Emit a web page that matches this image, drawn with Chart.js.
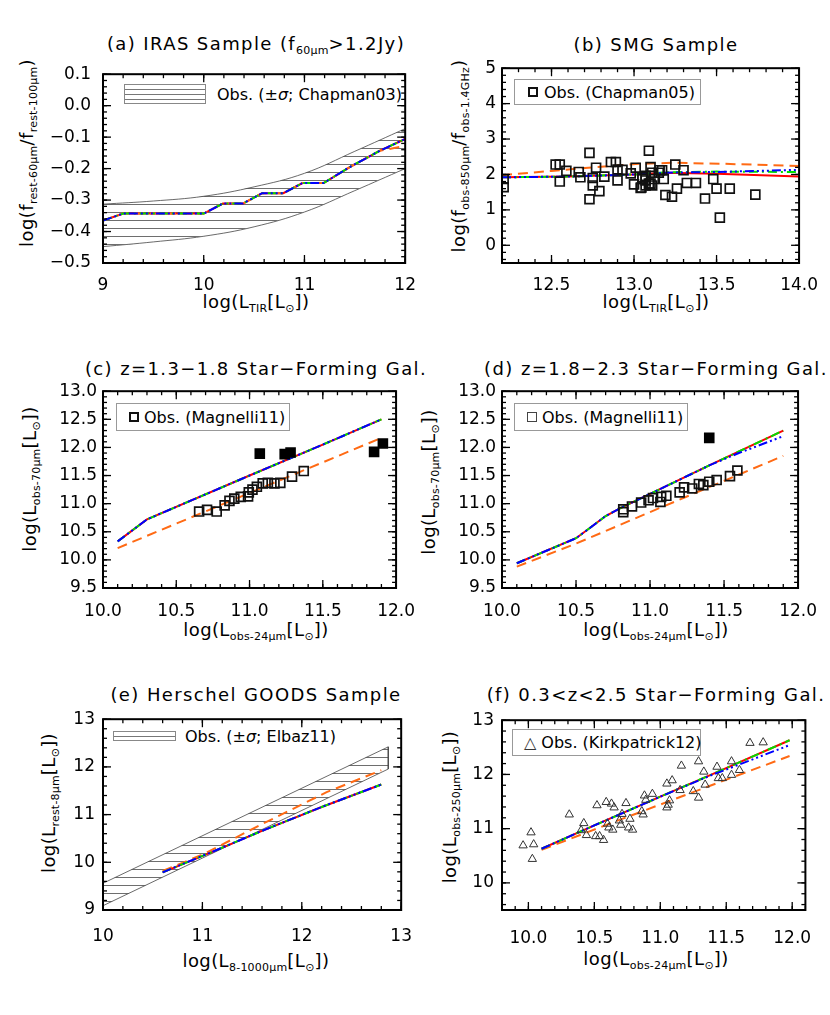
<!DOCTYPE html>
<html>
<head>
<meta charset="utf-8">
<title>Model versus observed infrared colours</title>
<script src="https://cdn.jsdelivr.net/npm/chart.js@4.4.1/dist/chart.umd.min.js"></script>
<style>
  body { margin: 0; background: #fff; }
  #page { position: relative; width: 830px; height: 1015px; overflow: hidden;
          font-family: 'DejaVu Sans', sans-serif; color: #000; }
  canvas { position: absolute; }
  .t { position: absolute; white-space: nowrap; line-height: 20px; font-size: 18px;
       transform: translate(-50%, -50%); }
  .ttl { letter-spacing: 1.4px; }
  .ax { letter-spacing: 0.4px; }
  .rot { transform: translate(-50%, -50%) rotate(-90deg); }
  .s { font-size: 11px; position: relative; top: 4px; letter-spacing: 0.2px; }
  .leg { position: absolute; display: flex; align-items: center; font-size: 16px;
         white-space: nowrap; box-sizing: border-box; }
  .frame { border: 1px solid #999; }
  .hatch { display: inline-block; border: 1px solid #888; box-sizing: border-box;
           background: repeating-linear-gradient(to bottom, transparent 0 4px, #777 4px 5px); }
  .sq { display: inline-block; width: 10px; height: 10px; border: 2px solid #111; box-sizing: border-box; }
</style>
</head>
<body>
<div id="page">
  <!-- panel titles -->
  <div class="t ttl" style="left:256px;top:45px">(a) IRAS Sample (f<span class="s">60µm</span>&gt;1.2Jy)</div>
  <div class="t ttl" style="left:656px;top:45px">(b) SMG Sample</div>
  <div class="t ttl" style="left:256px;top:369px">(c) z=1.3−1.8 Star−Forming Gal.</div>
  <div class="t ttl" style="left:656px;top:369px">(d) z=1.8−2.3 Star−Forming Gal.</div>
  <div class="t ttl" style="left:256px;top:695px">(e) Herschel GOODS Sample</div>
  <div class="t ttl" style="left:656px;top:695px">(f) 0.3&lt;z&lt;2.5 Star−Forming Gal.</div>

  <!-- x axis titles -->
  <div class="t ax" style="left:256px;top:303px">log(L<span class="s">TIR</span>[L<span class="s">⊙</span>])</div>
  <div class="t ax" style="left:656px;top:303px">log(L<span class="s">TIR</span>[L<span class="s">⊙</span>])</div>
  <div class="t ax" style="left:256px;top:631px">log(L<span class="s">obs-24µm</span>[L<span class="s">⊙</span>])</div>
  <div class="t ax" style="left:656px;top:631px">log(L<span class="s">obs-24µm</span>[L<span class="s">⊙</span>])</div>
  <div class="t ax" style="left:256px;top:962px">log(L<span class="s">8-1000µm</span>[L<span class="s">⊙</span>])</div>
  <div class="t ax" style="left:656px;top:960px">log(L<span class="s">obs-24µm</span>[L<span class="s">⊙</span>])</div>

  <!-- y axis titles -->
  <div class="t ax rot" style="left:28px;top:153px">log(f<span class="s">rest-60µm</span>/f<span class="s">rest-100µm</span>)</div>
  <div class="t ax rot" style="left:460px;top:156px">log(f<span class="s">obs-850µm</span>/f<span class="s">obs-1.4GHz</span>)</div>
  <div class="t ax rot" style="left:31px;top:479px">log(L<span class="s">obs-70µm</span>[L<span class="s">⊙</span>])</div>
  <div class="t ax rot" style="left:430px;top:482px">log(L<span class="s">obs-70µm</span>[L<span class="s">⊙</span>])</div>
  <div class="t ax rot" style="left:50px;top:803px">log(L<span class="s">rest-8µm</span>[L<span class="s">⊙</span>])</div>
  <div class="t ax rot" style="left:451px;top:807px">log(L<span class="s">obs-250µm</span>[L<span class="s">⊙</span>])</div>

  <!-- legends -->
  <div class="leg" style="left:124px;top:84px;height:20px">
    <span class="hatch" style="width:82px;height:20px"></span><span style="margin-left:11px">Obs. (±<i>σ</i>; Chapman03)</span></div>
  <div class="leg frame" style="left:514px;top:79px;width:187px;height:26px;padding-left:13px">
    <span class="sq"></span><span style="margin-left:6px">Obs. (Chapman05)</span></div>
  <div class="leg frame" style="left:116px;top:403px;width:174px;height:28px;padding-left:12px">
    <span class="sq"></span><span style="margin-left:5px">Obs. (Magnelli11)</span></div>
  <div class="leg frame" style="left:514px;top:403px;width:174px;height:28px;padding-left:12px">
    <span class="sq" style="border-width:1.3px;border-color:#444"></span><span style="margin-left:5px">Obs. (Magnelli11)</span></div>
  <div class="leg" style="left:113px;top:731px;height:10px">
    <span class="hatch" style="width:63px;height:10px"></span><span style="margin-left:9px">Obs. (±<i>σ</i>; Elbaz11)</span></div>
  <div class="leg frame" style="left:512px;top:729px;width:189px;height:27px;padding-left:11px">
    <span style="color:#333">△</span><span style="margin-left:5px">Obs. (Kirkpatrick12)</span></div>
</div>

<script>
// ---------- (a) IRAS sample ----------
const aBandX   = [9, 9.5, 10, 10.5, 11, 11.5, 12];
const aBandHi  = [-0.313, -0.303, -0.288, -0.258, -0.215, -0.145, -0.073];
const aBandLo  = [-0.448, -0.433, -0.415, -0.385, -0.338, -0.270, -0.200];
const aModelX  = [9, 9.2, 10, 10.19, 10.39, 10.58, 10.79, 10.98, 11.19, 11.45, 11.75, 12];
const aModelY  = [-0.365, -0.343, -0.343, -0.311, -0.311, -0.278, -0.278, -0.246, -0.246, -0.195, -0.143, -0.106];
const aOrangeY = [-0.365, -0.343, -0.343, -0.311, -0.311, -0.278, -0.278, -0.246, -0.246, -0.195, -0.143, -0.128];
const aXTicks  = [9, 10, 11, 12];
const aYTicks  = [0.1, 0.0, -0.1, -0.2, -0.3, -0.4, -0.5];

// ---------- (b) SMG sample ----------
const bObsX = [12.21, 12.21, 12.525, 12.55, 12.59, 12.55, 12.665, 12.675, 12.73, 12.73, 12.75, 12.75,
               12.77, 12.79, 12.82, 12.86, 12.89, 12.90, 12.90, 12.93, 12.98, 13.00, 13.01, 13.04,
               13.05, 13.09, 13.10, 13.07, 13.11, 13.07, 13.09, 13.12, 13.11, 13.15, 13.17, 13.18,
               13.19, 13.23, 13.25, 13.26, 13.30, 13.32, 13.375, 13.43, 13.48, 13.50, 13.52, 13.58,
               13.735, 13.045, 13.07, 13.10, 13.155, 13.05];
const bObsY = [1.87, 1.64, 2.28, 2.28, 2.10, 1.80, 2.07, 1.92, 2.61, 1.30, 1.90, 1.69,
               2.19, 1.53, 1.94, 2.35, 2.35, 2.14, 1.83, 2.13, 2.03, 1.72, 2.19, 1.62,
               1.87, 2.67, 2.21, 1.96, 2.05, 1.83, 1.74, 1.87, 1.69, 2.05, 2.12, 1.87,
               1.42, 1.37, 2.28, 1.60, 2.12, 1.76, 1.76, 1.32, 1.87, 1.60, 0.78, 1.60,
               1.43, 1.63, 1.69, 1.74, 2.12, 1.92];
const bLineX   = [12.2, 12.6, 13.0, 13.2, 13.5, 14.0];
const bRed     = [1.92, 1.94, 2.00, 2.05, 2.02, 1.94];
const bGreen   = [1.92, 1.94, 2.00, 2.06, 2.08, 2.07];
const bBlue    = [1.92, 1.94, 2.00, 2.05, 2.07, 2.13];
const bOrangeX = [12.2, 12.5, 12.77, 13.03, 13.24, 13.55, 14.0];
const bOrange  = [1.98, 2.10, 2.21, 2.30, 2.33, 2.30, 2.24];
const bXTicks  = [12.5, 13.0, 13.5, 14.0];
const bYTicks  = [0, 1, 2, 3, 4, 5];

// ---------- (c) z=1.3-1.8 ----------
const cObsX  = [10.656, 10.71, 10.776, 10.83, 10.863, 10.896, 10.94, 10.99, 10.995, 11.02, 11.05,
                11.09, 11.125, 11.17, 11.21, 11.29, 11.37];
const cObsY  = [10.86, 10.89, 10.86, 10.97, 11.05, 11.09, 11.12, 11.13, 11.20, 11.25, 11.30,
                11.36, 11.37, 11.36, 11.37, 11.48, 11.58];
const cFillX = [11.07, 11.24, 11.28, 11.85, 11.91];
const cFillY = [11.89, 11.88, 11.91, 11.92, 12.07];
const cLineX   = [10.1, 10.3, 11.0, 11.5, 11.9];
const cModel   = [10.33, 10.72, 11.50, 12.05, 12.50];
const cOrangeX = [10.1, 11.0, 11.9];
const cOrange  = [10.21, 11.19, 12.17];

// ---------- (d) z=1.8-2.3 ----------
const dObsX  = [10.819, 10.819, 10.878, 10.94, 10.99, 11.02, 11.07, 11.075, 11.11, 11.20, 11.23,
                11.285, 11.33, 11.36, 11.40, 11.45, 11.54, 11.59];
const dObsY  = [10.85, 10.90, 10.95, 11.02, 11.06, 11.10, 11.03, 11.12, 11.14, 11.20, 11.29,
                11.27, 11.35, 11.33, 11.39, 11.42, 11.49, 11.59];
const dFillX = [11.40];
const dFillY = [12.17];
const dLineX   = [10.1, 10.5, 10.6, 10.7, 10.8, 11.4, 11.9];
const dModel   = [9.94, 10.385, 10.58, 10.78, 10.92, 11.68, 12.30];
const dBlueX   = [10.1, 10.5, 10.6, 10.7, 10.8, 11.4, 11.6, 11.9];
const dBlue    = [9.94, 10.385, 10.58, 10.78, 10.92, 11.68, 11.90, 12.20];
const dOrangeX = [10.1, 10.5, 11.0, 11.9];
const dOrange  = [9.88, 10.29, 10.85, 11.85];
const cdXTicks = [10.0, 10.5, 11.0, 11.5, 12.0];
const cdYTicks = [9.5, 10.0, 10.5, 11.0, 11.5, 12.0, 12.5, 13.0];

// ---------- (e) Herschel GOODS ----------
const eBandX   = [10, 12.87];
const eBandHi  = [9.56, 12.42];
const eBandLo  = [9.09, 11.955];
const eLineX   = [10.6, 11.1, 11.6, 12.2, 12.8];
const eModel   = [9.79, 10.22, 10.66, 11.16, 11.63];
const eOrangeX = [10.6, 11.0, 11.6, 12.25, 12.8];
const eOrange  = [9.82, 10.16, 10.80, 11.47, 11.93];
const eXTicks  = [10, 11, 12, 13];
const eYTicks  = [9, 10, 11, 12, 13];

// ---------- (f) 0.3<z<2.5 ----------
const fObsX = [9.96, 10.02, 10.04, 10.03, 10.31, 10.42, 10.40, 10.44, 10.52, 10.51, 10.54, 10.57,
               10.59, 10.60, 10.61, 10.63, 10.65, 10.64, 10.69, 10.70, 10.71, 10.74, 10.76, 10.77,
               10.79, 10.86, 10.87, 10.88, 10.94, 10.89, 11.05, 11.09, 11.07, 11.06, 11.05, 11.16,
               11.15, 11.25, 11.29, 11.29, 11.33, 11.34, 11.43, 11.44, 11.47, 11.54, 11.54, 11.60,
               11.68, 11.78];
const fObsY = [10.69, 10.93, 10.71, 10.44, 11.26, 11.10, 10.97, 10.88, 11.43, 10.86, 10.86, 10.79,
               11.49, 11.09, 11.02, 11.46, 11.39, 10.98, 11.15, 11.07, 11.27, 11.47, 11.02, 11.18,
               10.98, 11.32, 11.26, 11.61, 11.64, 11.53, 11.83, 11.89, 11.52, 11.44, 11.39, 12.16,
               11.71, 11.69, 12.24, 11.57, 12.05, 11.81, 12.14, 11.93, 11.93, 12.24, 11.99, 12.08,
               12.58, 12.59];
const fLineX   = [10.1, 10.5, 11.0, 11.4, 11.98];
const fModel   = [10.63, 11.06, 11.59, 12.01, 12.63];
const fBlueX   = [10.1, 10.5, 11.0, 11.4, 11.5, 11.98];
const fBlue    = [10.63, 11.06, 11.59, 12.00, 12.09, 12.54];
const fOrangeX = [10.1, 10.7, 11.3, 11.98];
const fOrange  = [10.61, 11.17, 11.72, 12.34];
const fXTicks  = [10.0, 10.5, 11.0, 11.5, 12.0];
const fYTicks  = [10, 11, 12, 13];

// ---------- helpers ----------
const xy = (xs, ys) => xs.map((x, i) => ({ x: x, y: ys[i] }));
const minus = s => s.replace('-', '\u2212');
const fmtInt = v => minus(String(Math.round(v)));
const fmtDec = v => minus((Math.abs(v) < 1e-9 ? 0 : v).toFixed(1));

function hatchPattern() {
  const c = document.createElement('canvas');
  c.width = 8; c.height = 8;
  const g = c.getContext('2d');
  g.fillStyle = '#6e6e6e';
  g.fillRect(0, 0, 8, 1);
  return g.createPattern(c, 'repeat');
}

const LINE = {
  red:    { borderColor: '#ff0000', borderDash: [], order: 4 },
  orange: { borderColor: '#ff6a14', borderDash: [10, 6], order: 3 },
  green:  { borderColor: '#00e000', borderDash: [9, 4, 2, 4], order: 2 },
  blue:   { borderColor: '#0000ff', borderDash: [9, 3, 2, 3, 2, 3, 2, 3], order: 1 }
};

function curve(xs, ys, kind) {
  return Object.assign({ data: xy(xs, ys), borderWidth: 2, pointRadius: 0, fill: false, tension: 0 }, LINE[kind]);
}

function marks(xs, ys, style) {
  return Object.assign({ data: xy(xs, ys), showLine: false, order: 0,
    pointStyle: 'rect', pointRadius: 6.3, pointBorderWidth: 1.7,
    pointBorderColor: '#111', pointBackgroundColor: 'rgba(0,0,0,0)' }, style);
}

// straight-edged hatched polygon (upper edge, then lower edge back)
function band(xs, hi, lo) {
  return [{ data: xy(xs, hi).concat(xy(xs, lo).reverse()), fill: 'shape', order: 5,
    backgroundColor: hatchPattern(), borderColor: '#444', borderWidth: 0.8, pointRadius: 0 }];
}

// smooth hatched band: upper curve filled down to the next dataset
function smoothBand(xs, hi, lo) {
  const edge = { borderColor: '#444', borderWidth: 0.8, pointRadius: 0, tension: 0.4, order: 5 };
  return [
    Object.assign({ data: xy(xs, hi), fill: '+1', backgroundColor: hatchPattern() }, edge),
    Object.assign({ data: xy(xs, lo), fill: false }, edge)
  ];
}

// box with inward major/minor ticks on all four sides
const idlFrame = {
  id: 'idlFrame',
  afterDatasetsDraw(chart, args, opts) {
    const { ctx, chartArea: a, scales } = chart;
    const sx = scales.x, sy = scales.y;
    ctx.save();
    ctx.strokeStyle = '#000';
    ctx.lineWidth = 1.3;
    const seg = (x1, y1, x2, y2) => { ctx.beginPath(); ctx.moveTo(x1, y1); ctx.lineTo(x2, y2); ctx.stroke(); };
    const each = (scale, step, fn) => {
      const k0 = Math.ceil(scale.min / step - 1e-6), k1 = Math.floor(scale.max / step + 1e-6);
      for (let k = k0; k <= k1; k++) fn(scale.getPixelForValue(k * step));
    };
    each(sx, opts.xMinor, p => { seg(p, a.bottom, p, a.bottom - 4); seg(p, a.top, p, a.top + 4); });
    each(sy, opts.yMinor, p => { seg(a.left, p, a.left + 4, p); seg(a.right, p, a.right - 4, p); });
    sx.ticks.forEach(t => { const p = sx.getPixelForValue(t.value); seg(p, a.bottom, p, a.bottom - 8); seg(p, a.top, p, a.top + 8); });
    sy.ticks.forEach(t => { const p = sy.getPixelForValue(t.value); seg(a.left, p, a.left + 8, p); seg(a.right, p, a.right - 8, p); });
    ctx.lineWidth = 2;
    ctx.strokeRect(a.left, a.top, a.right - a.left, a.bottom - a.top);
    ctx.restore();
  }
};

const TICK_FONT = { family: 'DejaVu Sans', size: 17 };
const Y_W = 70, PAD_R = 20, PAD_T = 10, X_H = 42;

function panel(p) {
  const [l, t, r, b] = p.area;
  const cv = document.createElement('canvas');
  cv.width = Y_W + (r - l) + PAD_R;
  cv.height = PAD_T + (b - t) + X_H;
  cv.style.left = (l - Y_W) + 'px';
  cv.style.top = (t - PAD_T) + 'px';
  document.getElementById('page').appendChild(cv);

  const axis = (range, ticks, fmt, pad, fit) => ({
    type: 'linear', min: range[0], max: range[1],
    afterBuildTicks: s => { s.ticks = ticks.map(v => ({ value: v })); },
    afterFit: fit,
    grid: { display: false, drawTicks: false },
    border: { display: false },
    ticks: { font: TICK_FONT, color: '#000', padding: pad, autoSkip: false,
             maxRotation: 0, minRotation: 0, callback: fmt }
  });

  new Chart(cv, {
    type: 'line',
    data: { datasets: p.datasets },
    plugins: [idlFrame],
    options: {
      responsive: false, animation: false, devicePixelRatio: 1, events: [],
      layout: { padding: { top: PAD_T, right: PAD_R, left: 0, bottom: 0 } },
      plugins: { legend: { display: false }, tooltip: { enabled: false },
                 idlFrame: { xMinor: p.minor[0], yMinor: p.minor[1] } },
      scales: {
        x: axis(p.x, p.xTicks, p.xFmt, p.pad[0], s => { s.height = X_H; }),
        y: axis(p.y, p.yTicks, p.yFmt, p.pad[1], s => { s.width = Y_W; })
      }
    }
  });
}

panel({ area: [103, 62, 408, 263], x: [9, 12], y: [-0.5, 0.1],
  xTicks: aXTicks, yTicks: aYTicks, xFmt: fmtInt, yFmt: fmtDec, minor: [0.2, 0.02], pad: [12, 12],
  datasets: smoothBand(aBandX, aBandHi, aBandLo).concat([
    curve(aModelX, aModelY, 'red'),
    curve(aModelX, aOrangeY, 'orange'),
    curve(aModelX, aModelY, 'green'),
    curve(aModelX, aModelY, 'blue')
  ]) });

panel({ area: [502, 62, 810, 263], x: [12.2, 14.0], y: [-0.5, 5.0],
  xTicks: bXTicks, yTicks: bYTicks, xFmt: fmtDec, yFmt: fmtInt, minor: [0.1, 0.2], pad: [12, 6],
  datasets: [
    marks(bObsX, bObsY, {}),
    curve(bLineX, bRed, 'red'),
    curve(bOrangeX, bOrange, 'orange'),
    curve(bLineX, bGreen, 'green'),
    curve(bLineX, bBlue, 'blue')
  ] });

panel({ area: [103, 385, 408, 588], x: [10, 12], y: [9.5, 13.0],
  xTicks: cdXTicks, yTicks: cdYTicks, xFmt: fmtDec, yFmt: fmtDec, minor: [0.1, 0.1], pad: [13, 6],
  datasets: [
    marks(cObsX, cObsY, {}),
    marks(cFillX, cFillY, { pointBackgroundColor: '#000', pointBorderColor: '#000' }),
    curve(cLineX, cModel, 'red'),
    curve(cOrangeX, cOrange, 'orange'),
    curve(cLineX, cModel, 'green'),
    curve(cLineX, cModel, 'blue')
  ] });

panel({ area: [502, 385, 810, 588], x: [10, 12], y: [9.5, 13.0],
  xTicks: cdXTicks, yTicks: cdYTicks, xFmt: fmtDec, yFmt: fmtDec, minor: [0.1, 0.1], pad: [13, 6],
  datasets: [
    marks(dObsX, dObsY, {}),
    marks(dFillX, dFillY, { pointBackgroundColor: '#000', pointBorderColor: '#000' }),
    curve(dLineX, dModel, 'red'),
    curve(dOrangeX, dOrange, 'orange'),
    curve(dLineX, dModel, 'green'),
    curve(dBlueX, dBlue, 'blue')
  ] });

panel({ area: [103, 711, 408, 910], x: [10, 13], y: [9, 13],
  xTicks: eXTicks, yTicks: eYTicks, xFmt: fmtInt, yFmt: fmtInt, minor: [0.2, 0.2], pad: [16, 8],
  datasets: band(eBandX, eBandHi, eBandLo).concat([
    curve(eLineX, eModel, 'red'),
    curve(eOrangeX, eOrange, 'orange'),
    curve(eLineX, eModel, 'green'),
    curve(eLineX, eModel, 'blue')
  ]) });

panel({ area: [502, 712, 810, 910], x: [9.8, 12.1], y: [9.5, 13.0],
  xTicks: fXTicks, yTicks: fYTicks, xFmt: fmtDec, yFmt: fmtInt, minor: [0.1, 0.2], pad: [18, 8],
  datasets: [
    marks(fObsX, fObsY, { pointStyle: 'triangle', pointRadius: 4.8, pointBorderWidth: 1, pointBorderColor: '#333' }),
    curve(fLineX, fModel, 'red'),
    curve(fOrangeX, fOrange, 'orange'),
    curve(fLineX, fModel, 'green'),
    curve(fBlueX, fBlue, 'blue')
  ] });
</script>
</body>
</html>
